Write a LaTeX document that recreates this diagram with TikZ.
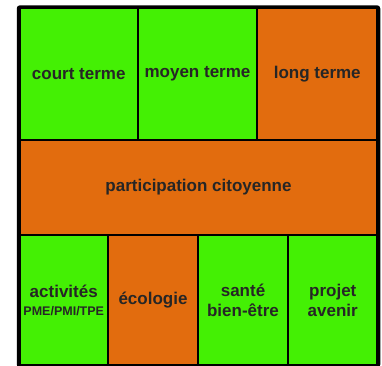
\documentclass[tikz,border=0pt]{standalone}
\usepackage{fontspec}
\setmainfont{Liberation Sans}
\definecolor{vertvif}{RGB}{68,240,4}
\definecolor{orangefonce}{RGB}{226,108,14}

\begin{document}
\begin{tikzpicture}[x=1pt,y=-1pt,
  cell/.style={draw=black,line width=2.5pt,inner sep=0pt,align=center,
    text=black!85,font=\bfseries\fontsize{17}{20}\selectfont},
  vertcell/.style={cell,fill=vertvif},
  orangecell/.style={cell,fill=orangefonce}]
  \useasboundingbox (0,0) rectangle (382,365);
  % rangee du haut
  \node[vertcell,minimum width=118.5pt,minimum height=132pt] (court) at (78.75,74) {court terme};
  \node[vertcell,minimum width=119pt,minimum height=132pt] (moyen) at (197.5,74) {moyen terme};
  \node[orangecell,minimum width=120.5pt,minimum height=132pt] (long) at (317.25,74) {long terme};
  % rangee du milieu
  \node[orangecell,minimum width=358pt,minimum height=95pt] (citoyen) at (198.5,187.5) {participation citoyenne};
  % rangee du bas
  \node[vertcell,minimum width=88.5pt,minimum height=130pt] (activites) at (63.75,300)
    {activités\\[-2pt]{\fontsize{12.5}{14}\selectfont PME/PMI/TPE}};
  \node[orangecell,minimum width=90pt,minimum height=130pt] (ecologie) at (153,300) {écologie};
  \node[vertcell,minimum width=90pt,minimum height=130pt] (sante) at (243,300) {santé\\bien-être};
  \node[vertcell,minimum width=89.5pt,minimum height=130pt] (projet) at (332.75,300) {projet\\avenir};
  % cadre
  \draw[line width=3pt,rounded corners=2pt] (court.north west) rectangle (projet.south east);
\end{tikzpicture}
\end{document}
